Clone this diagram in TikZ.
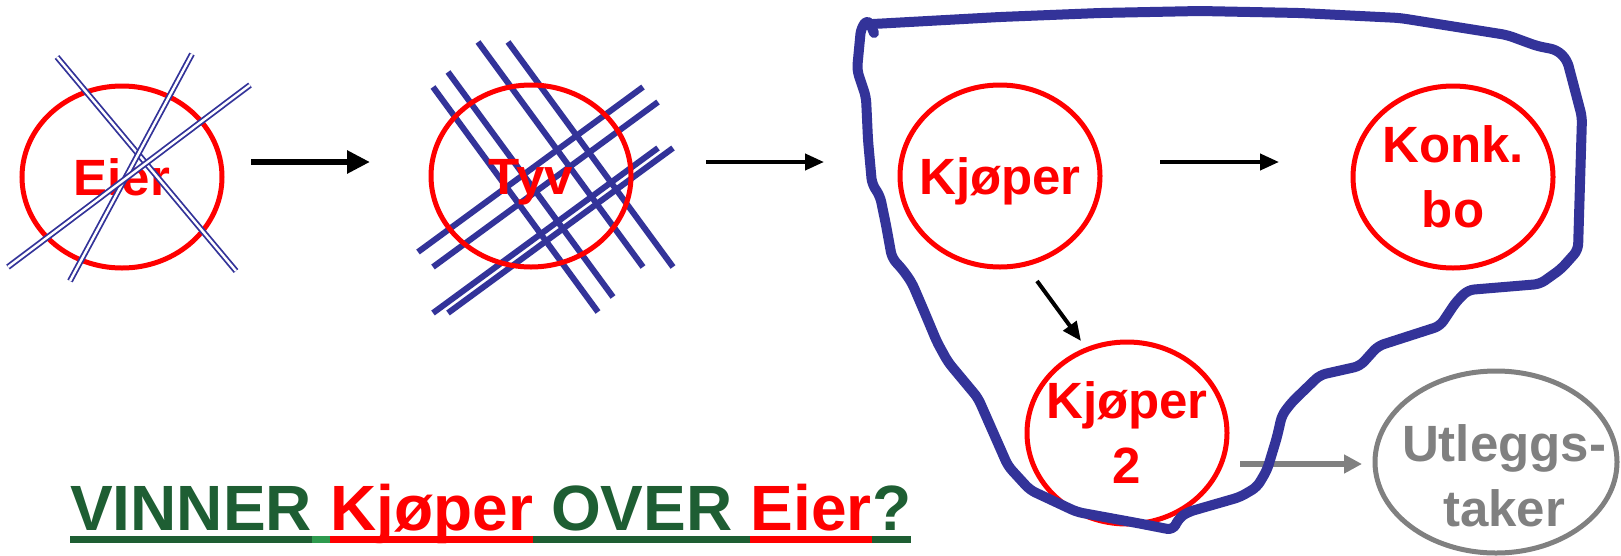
\documentclass[tikz,border=0pt]{standalone}
\usepackage{fontspec}
\setmainfont{Liberation Sans}
\usetikzlibrary{arrows.meta,shapes.geometric}
\definecolor{inkblue}{HTML}{333399}
\definecolor{darkgreen}{HTML}{1E5E33}
\definecolor{lightgreen}{HTML}{2E9A4E}
\definecolor{greyish}{HTML}{808080}

\begin{document}
\begin{tikzpicture}[x=1pt,y=-1pt,
    bubble/.style={ellipse,draw=red,line width=5pt,minimum width=200pt,minimum height=182pt,inner sep=0pt},
    word/.style={text=red,font=\bfseries\fontsize{51}{65}\selectfont,align=center,inner sep=0pt},
    oneline/.style={text height=37pt,text depth=0pt},
    cross/.style={draw=inkblue,line width=1.8pt,double=white,double distance=2.4pt},
    bar/.style={draw=inkblue,line width=6pt},
    fat/.style={line width=6pt,-{Triangle[length=23pt,width=22pt]}},
    thin/.style={line width=4pt,-{Triangle[length=19pt,width=16pt]}},
    ask/.style={font=\bfseries\fontsize{64}{77}\selectfont,inner sep=0pt,anchor=base west},
    uline/.style={line width=7pt}]
\useasboundingbox (0,0) rectangle (1621,555);

% Eier, crossed out
\node[bubble,label={[word,oneline]center:Eier}] (eier) at (122,177) {};
\draw[cross] (57,57) -- (236,271);
\draw[cross] (192,54) -- (70,281);
\draw[cross] (250,85) -- (8,267);

% Tyv, barred
\foreach \a/\b in {433/87, 448/72, 478/42, 508/42}
    \draw[bar] (\a,\b) -- ++(165,225);
\foreach \a/\b in {418/252, 433/267, 433/313, 448/313}
    \draw[bar] (\a,\b) -- ++(225,-165);
\node[bubble,label={[word,oneline]center:Tyv}] (tyv) at (531,176) {};

\node[bubble,label={[word,oneline]center:Kjøper}] (kjoper) at (1000,176) {};
\node[bubble,label={[word]center:Konk.\\bo}] (konk) at (1453,177) {};
\node[bubble,label={[word]center:Kjøper\\2}] (kjoper2) at (1127,433) {};
\node[bubble,draw=greyish,minimum width=242pt,label={[word,text=greyish,xshift=8pt,yshift=-14pt]center:Utleggs-\\taker}] (utl) at (1496,462) {};

\draw[fat,shorten <=26.5pt,shorten >=58.5pt] ([yshift=15pt]eier.east) -- ([yshift=14pt]tyv.west);
\draw[thin,shorten <=72.5pt,shorten >=73.5pt] ([yshift=14pt]tyv.east) -- ([yshift=14pt]kjoper.west);
\draw[thin,shorten <=57.5pt,shorten >=71.5pt] ([yshift=14pt]kjoper.east) -- ([yshift=15pt]konk.west);
\draw[thin] ([shift={(37,11.5)}]kjoper.south) -- ([shift={(-46,1.5)}]kjoper2.north);
\draw[greyish,line width=6pt,-{Triangle[length=18pt,width=18pt]}] ([shift={(10.5,31)}]kjoper2.east) -- ([shift={(-10.5,2)}]utl.west);

% the estate
\draw[inkblue,line width=10pt,line cap=round,line join=round,rounded corners=6pt]
    (874,33) -- (868,19) -- (861,28) -- (857,70) -- (866,97) -- (868,140) -- (872,184)
    -- (880,196) -- (886,225) -- (892,258) -- (903,270) -- (912,283) -- (924,311)
    -- (937,342) -- (948,362) -- (963,380) -- (978,398) -- (993,432) -- (1008,466)
    -- (1030,490) -- (1077,512) -- (1137,523) -- (1173,530) -- (1179,518) -- (1188,512)
    -- (1240,497) -- (1257,487) -- (1267,470) -- (1277,437) -- (1282,415) -- (1292,402)
    -- (1320,375) -- (1360,366) -- (1378,346) -- (1440,326) -- (1456,302) -- (1468,290)
    -- (1540,284) -- (1561,269) -- (1578,250) -- (1582,117) -- (1567,60) -- (1557,50)
    -- (1537,46) -- (1507,35) -- (1400,18) -- (1300,13) -- (1200,11) -- (1100,13)
    -- (1000,17) -- (873,24);

\node[ask,text=darkgreen] (w1) at (70,530) {VINNER};
\node[ask,text=red] (w2) at ([xshift=17.8pt]w1.base east) {Kjøper};
\node[ask,text=darkgreen] (w3) at ([xshift=17.8pt]w2.base east) {OVER};
\node[ask,text=red] (w4) at ([xshift=17.8pt]w3.base east) {Eier};
\node[ask,text=darkgreen] (w5) at (w4.base east) {?};
\foreach \p/\q/\c in {w1.base west/w1.base east/darkgreen, w1.base east/w2.base west/lightgreen,
    w2.base west/w2.base east/red, w2.base east/w4.base west/darkgreen,
    w4.base west/w4.base east/red, w5.base west/w5.base east/darkgreen}
    \draw[uline,\c] ([yshift=-9.5pt]\p) -- ([yshift=-9.5pt]\q);
\end{tikzpicture}
\end{document}
